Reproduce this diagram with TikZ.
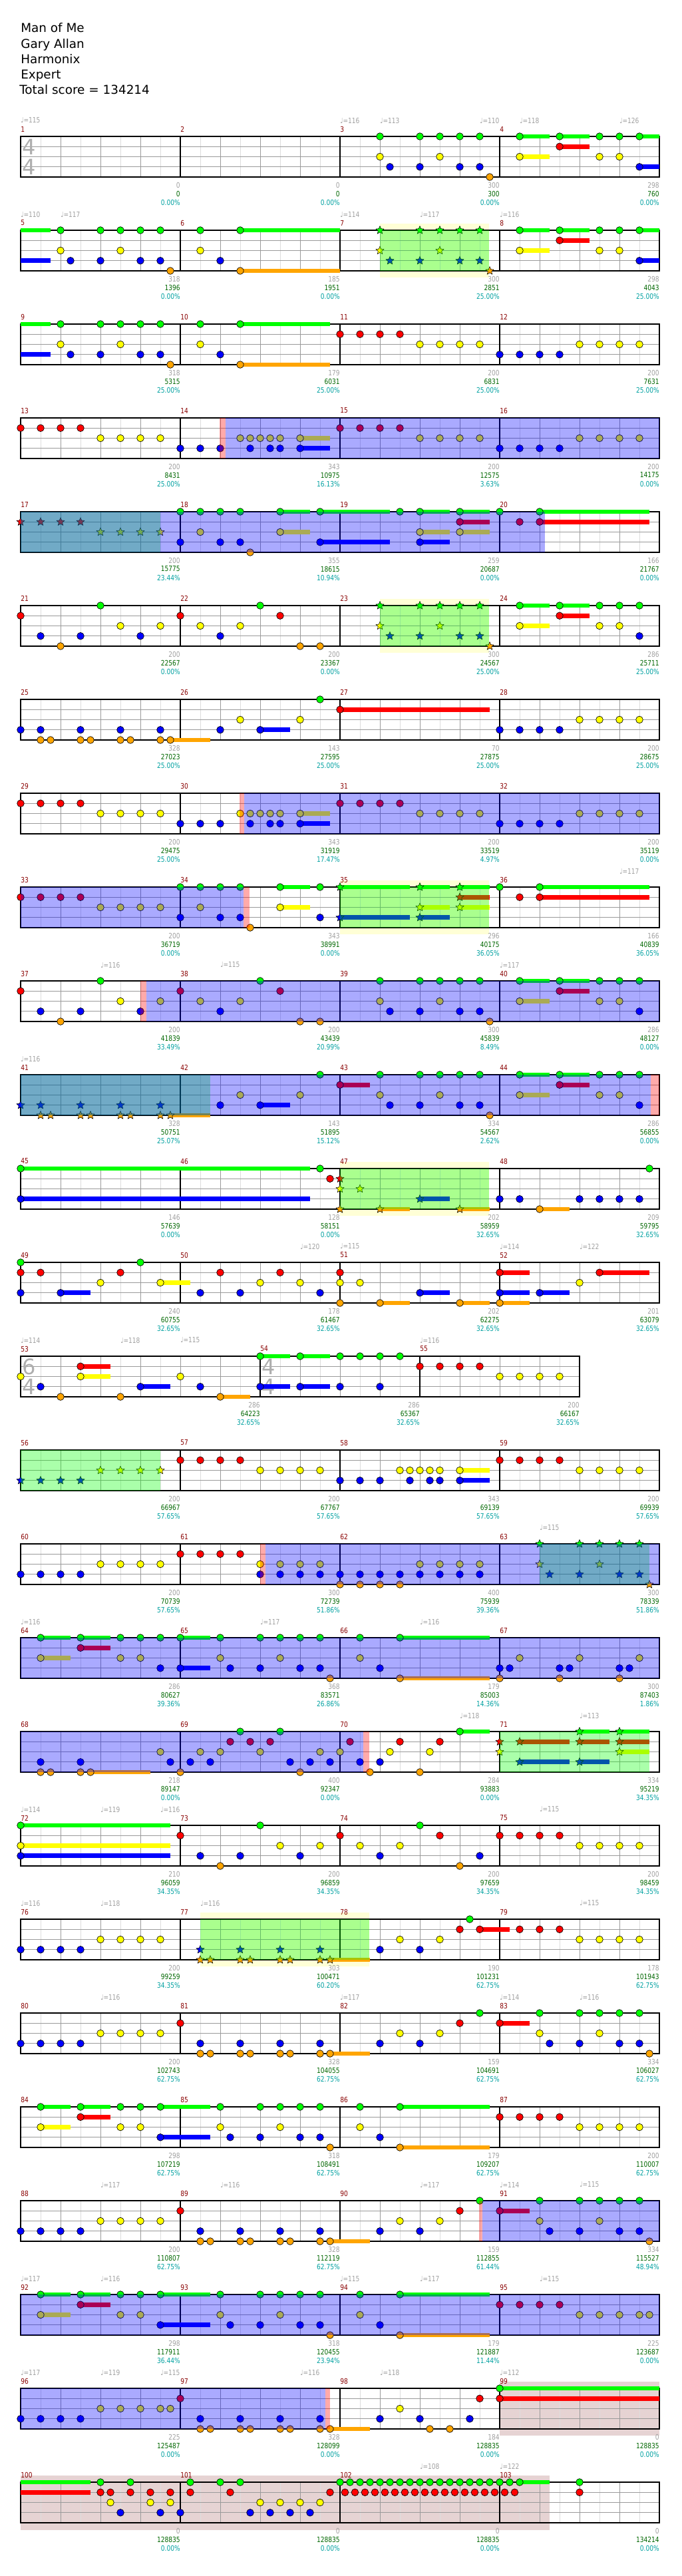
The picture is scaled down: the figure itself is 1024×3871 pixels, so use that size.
\documentclass[tikz,border=0pt]{standalone}
\usepackage{fontspec}
\setmainfont{DejaVu Sans}
\newfontfamily\lblfont[FakeStretch=0.82]{DejaVu Sans}
\usetikzlibrary{shapes.geometric}
\definecolor{gemGreen}{HTML}{00FF00}
\definecolor{gemRed}{HTML}{FF0000}
\definecolor{gemYellow}{HTML}{FFFF00}
\definecolor{gemBlue}{HTML}{0000FF}
\definecolor{gemOrange}{HTML}{FFA500}
\definecolor{gridlight}{HTML}{DDDDDD}
\definecolor{gridgrey}{HTML}{9A9A9A}
\definecolor{measred}{HTML}{880000}
\definecolor{ptsgrey}{HTML}{A0A0A0}
\definecolor{ptsgreen}{HTML}{006600}
\definecolor{ptsteal}{HTML}{00A0A0}
\definecolor{bandyel}{HTML}{FFFFD6}
\definecolor{codafill}{HTML}{E6D3D3}

\newcommand{\gm}[3]{\foreach \b in {#3}{\filldraw[gem, fill=#1] (60*\b,15.25*#2) circle[radius=4pt];}}
\newcommand{\nG}[1]{\gm{gemGreen}{0}{#1}}
\newcommand{\nR}[1]{\gm{gemRed}{1}{#1}}
\newcommand{\nY}[1]{\gm{gemYellow}{2}{#1}}
\newcommand{\nB}[1]{\gm{gemBlue}{3}{#1}}
\newcommand{\nO}[1]{\gm{gemOrange}{4}{#1}}
\newcommand{\stg}[3]{\foreach \b in {#3}{\node[stargem, fill=#1] at (60*\b,15.25*#2) {};}}
\newcommand{\sG}[1]{\stg{gemGreen}{0}{#1}}
\newcommand{\sR}[1]{\stg{gemRed}{1}{#1}}
\newcommand{\sY}[1]{\stg{gemYellow}{2}{#1}}
\newcommand{\sB}[1]{\stg{gemBlue}{3}{#1}}
\newcommand{\sO}[1]{\stg{gemOrange}{4}{#1}}
\newcommand{\hold}[4]{\draw[sustain, #1] (60*#3,15.25*#2) -- (60*#4,15.25*#2);}
\newcommand{\uG}[2]{\hold{gemGreen}{0}{#1}{#2}}
\newcommand{\uR}[2]{\hold{gemRed}{1}{#1}{#2}}
\newcommand{\uY}[2]{\hold{gemYellow}{2}{#1}{#2}}
\newcommand{\uB}[2]{\hold{gemBlue}{3}{#1}{#2}}
\newcommand{\uO}[2]{\hold{gemOrange}{4}{#1}{#2}}
\newcommand{\staff}[2]{%
  \foreach \i in {1,...,#1}{\draw[halfbeat] (60*\i-30,0) -- (60*\i-30,61);}
  \foreach \i in {1,...,#1}{\draw[beatline] (60*\i,0) -- (60*\i,61);}
  \foreach \j in {1,2,3}{\draw[beatline] (0,15.25*\j) -- (60*#1,15.25*\j);}
  \foreach \i in {#2}{\draw[barline] (60*\i,0) -- (60*\i,61);}
  \draw[barline] (0,0) rectangle (60*#1,61);}
\newcommand{\odrive}[2]{\fill[blue, fill opacity=0.333] (60*#1,0) rectangle (60*#2,61);}
\newcommand{\phrase}[2]{\fill[green, fill opacity=0.333] (60*#1,0) rectangle (60*#2,61);}
\newcommand{\pinkmark}[2]{\fill[red, fill opacity=0.333] (60*#1,0) rectangle (60*#2,61);}
\newcommand{\band}[2]{\fill[bandyel] (60*#1,-10) rectangle (60*#2,71);}
\newcommand{\codazone}[3]{\fill[codafill] (60*#1,-10) rectangle (60*#2,#3);}
\newcommand{\mnum}[2]{\node[measnum] at (60*#1,-11) {#2};}
\newcommand{\tempo}[2]{\node[tempomark] at (60*#1,-24) {♩=#2};}
\newcommand{\pts}[4]{\node[ptgrey] at (60*#1,73) {#2};
  \node[ptgreen] at (60*#1,86) {#3};
  \node[ptteal] at (60*#1,99) {#4\%};}
\newcommand{\tsig}[3]{\node[tsignum] at (60*#1+13,16) {#2};
  \node[tsignum] at (60*#1+13,45.75) {#3};}

\begin{document}
\begin{tikzpicture}[x=0.75pt, y=-0.75pt,
    gem/.style={draw=black, line width=0.5pt},
    stargem/.style={star, star points=5, star point ratio=2.2, minimum size=9.5pt,
                    inner sep=0pt, draw=black, line width=0.4pt},
    sustain/.style={line width=5pt},
    halfbeat/.style={draw=gridlight, line width=0.75pt},
    beatline/.style={draw=gridgrey, line width=0.75pt},
    barline/.style={draw=black, line width=1pt},
    small/.style={inner sep=0pt, font=\lblfont\fontsize{8.3}{9}\selectfont},
    measnum/.style={small, anchor=west, text=measred},
    tempomark/.style={small, anchor=west, text=ptsgrey},
    ptgrey/.style={small, anchor=east, text=ptsgrey},
    ptgreen/.style={small, anchor=east, text=ptsgreen},
    ptteal/.style={small, anchor=east, text=ptsteal},
    tsignum/.style={inner sep=0pt, text=ptsgrey!85, font=\fontsize{24}{24}\selectfont},
    title/.style={anchor=base west, inner sep=0pt, font=\fontsize{13.8}{16}\selectfont},
]
\useasboundingbox (0,0) rectangle (1024,3871);

\node[title] (song) at (31,49) {Man of Me};
\node[title] (artist) at (31,72.2) {Gary Allan};
\node[title] (charter) at (31,95.3) {Harmonix};
\node[title] (level) at (31,118.4) {Expert};
\node[title] (total) at (29,141.6) {Total score = 134214};

% 1-4
\begin{scope}[shift={(31,205)}]
\staff{16}{4,8,12}
\tsig{0}{4}{4}
\uG{12.5}{13.25} \uG{13.5}{14.25} \uG{15.5}{16} \uR{13.5}{14.25} \uY{12.5}{13.25} \uB{15.5}{16}
\nG{9,10,10.5,11,11.5,12.5,13.5,14.5,15,15.5}
\nR{13.5}
\nY{9,10.5,12.5,14.5,15}
\nB{9.25,10,11,11.5,15.5}
\nO{11.75}
\mnum{0}{1} \mnum{4}{2} \mnum{8}{3} \mnum{12}{4}
\tempo{0}{115} \tempo{8}{116} \tempo{9}{113} \tempo{11.5}{110} \tempo{12.5}{118} \tempo{15}{126}
\pts{4}{0}{0}{0.00} \pts{8}{0}{0}{0.00} \pts{12}{300}{300}{0.00} \pts{16}{298}{760}{0.00}
\end{scope}

% 5-8
\begin{scope}[shift={(31,346)}]
\band{9}{11.73}
\staff{16}{4,8,12}
\uG{0}{0.75} \uB{0}{0.75} \uG{5.5}{8} \uO{5.5}{8}
\uG{12.5}{13.25} \uG{13.5}{14.25} \uG{15.5}{16} \uR{13.5}{14.25} \uY{12.5}{13.25} \uB{15.5}{16}
\nG{1,2,2.5,3,3.5,4.5,5.5,12.5,13.5,14.5,15,15.5}
\nR{13.5}
\nY{1,2.5,4.5,12.5,14.5,15}
\nB{1.25,2,3,3.5,5,15.5}
\nO{3.75,5.5}
\sG{9,10,10.5,11,11.5} \sY{9,10.5} \sB{9.25,10,11,11.5} \sO{11.75}
\phrase{9}{11.73}
\mnum{0}{5} \mnum{4}{6} \mnum{8}{7} \mnum{12}{8}
\tempo{0}{110} \tempo{1}{117} \tempo{8}{114} \tempo{10}{117} \tempo{12}{116}
\pts{4}{318}{1396}{0.00} \pts{8}{185}{1951}{0.00} \pts{12}{300}{2851}{25.00} \pts{16}{298}{4043}{25.00}
\end{scope}

% 9-12
\begin{scope}[shift={(31,487)}]
\staff{16}{4,8,12}
\uG{0}{0.75} \uB{0}{0.75} \uG{5.5}{7.75} \uO{5.5}{7.75}
\nG{1,2,2.5,3,3.5,4.5,5.5}
\nR{8,8.5,9,9.5}
\nY{1,2.5,4.5,10,10.5,11,11.5,14,14.5,15,15.5}
\nB{1.25,2,3,3.5,5,12,12.5,13,13.5}
\nO{3.75,5.5}
\mnum{0}{9} \mnum{4}{10} \mnum{8}{11} \mnum{12}{12}
\pts{4}{318}{5315}{25.00} \pts{8}{179}{6031}{25.00} \pts{12}{200}{6831}{25.00} \pts{16}{200}{7631}{25.00}
\end{scope}

% 13-16
\begin{scope}[shift={(31,628)}]
\staff{16}{4,8,12}
\uY{7}{7.75} \uB{7}{7.75}
\nR{0,0.5,1,1.5,8,8.5,9,9.5}
\nY{2,2.5,3,3.5,5.5,5.75,6,6.25,6.5,7,10,10.5,11,11.5,14,14.5,15,15.5}
\nB{4,4.5,5,5.75,6.25,6.5,7,12,12.5,13,13.5}
\pinkmark{4.99}{5.14} \odrive{5.14}{16}
\mnum{0}{13} \mnum{4}{14} \mnum{8}{15} \mnum{12}{16}
\pts{4}{200}{8431}{25.00} \pts{8}{343}{10975}{16.13} \pts{12}{200}{12575}{3.63} \pts{16}{200}{14175}{0.00}
\end{scope}

% 17-20
\begin{scope}[shift={(31,769)}]
\staff{16}{4,8,12}
\uG{6.5}{7.25} \uG{7.5}{9.25} \uG{10}{10.75} \uG{11}{11.75} \uG{13}{15.75}
\uR{11}{11.75} \uR{13}{15.75} \uY{6.5}{7.25} \uY{10}{10.75} \uY{11}{11.75}
\uB{7.5}{9.25} \uB{10}{10.75}
\nG{4,4.5,5,5.5,6.5,7.5,9.5,10,11,12,13}
\nR{11,12.5,13}
\nY{4.5,6.5,10,11}
\nB{4,5,5.5,7.5,10}
\nO{5.75}
\sR{0,0.5,1,1.5} \sY{2,2.5,3,3.5}
\phrase{0}{3.5} \odrive{0}{13.14}
\mnum{0}{17} \mnum{4}{18} \mnum{8}{19} \mnum{12}{20}
\pts{4}{200}{15775}{23.44} \pts{8}{355}{18615}{10.94} \pts{12}{259}{20687}{0.00} \pts{16}{166}{21767}{0.00}
\end{scope}

% 21-24
\begin{scope}[shift={(31,910)}]
\band{9}{11.74}
\staff{16}{4,8,12}
\uG{12.5}{13.25} \uG{13.5}{14.25} \uR{13.5}{14.25} \uY{12.5}{13.25}
\nG{2,6,12.5,13.5,14.5,15,15.5}
\nR{0,4,6.5,13.5}
\nY{2.5,3.5,4.5,5.5,12.5,14.5,15}
\nB{0.5,1.5,3,5,15.5}
\nO{1,7,7.5}
\sG{9,10,10.5,11,11.5} \sY{9,10.5} \sB{9.25,10,11,11.5} \sO{11.75}
\phrase{9}{11.74}
\mnum{0}{21} \mnum{4}{22} \mnum{8}{23} \mnum{12}{24}
\pts{4}{200}{22567}{0.00} \pts{8}{200}{23367}{0.00} \pts{12}{300}{24567}{25.00} \pts{16}{286}{25711}{25.00}
\end{scope}

% 25-28
\begin{scope}[shift={(31,1051)}]
\staff{16}{4,8,12}
\uO{3.75}{4.75} \uB{6}{6.75} \uR{8}{11.75}
\nG{7.5}
\nR{8}
\nY{5.5,7,14,14.5,15,15.5}
\nB{0,0.5,1.5,2.5,3.5,5,6,12,12.5,13,13.5}
\nO{0.5,0.75,1.5,1.75,2.5,2.75,3.5,3.75}
\mnum{0}{25} \mnum{4}{26} \mnum{8}{27} \mnum{12}{28}
\pts{4}{328}{27023}{25.00} \pts{8}{143}{27595}{25.00} \pts{12}{70}{27875}{25.00} \pts{16}{200}{28675}{25.00}
\end{scope}

% 29-32
\begin{scope}[shift={(31,1192)}]
\staff{16}{4,8,12}
\uY{7}{7.75} \uB{7}{7.75}
\nR{0,0.5,1,1.5,8,8.5,9,9.5}
\nY{2,2.5,3,3.5,5.5,5.75,6,6.25,6.5,7,10,10.5,11,11.5,14,14.5,15,15.5}
\nB{4,4.5,5,5.75,6.25,6.5,7,12,12.5,13,13.5}
\pinkmark{5.49}{5.6} \odrive{5.6}{16}
\mnum{0}{29} \mnum{4}{30} \mnum{8}{31} \mnum{12}{32}
\pts{4}{200}{29475}{25.00} \pts{8}{343}{31919}{17.47} \pts{12}{200}{33519}{4.97} \pts{16}{200}{35119}{0.00}
\end{scope}

% 33-36
\begin{scope}[shift={(31,1333)}]
\band{8}{11.74}
\staff{16}{4,8,12}
\uG{6.5}{7.25} \uY{6.5}{7.25} \uG{8}{9.75} \uG{10}{10.75} \uG{11}{11.75}
\uR{11}{11.75} \uY{10}{10.75} \uY{11}{11.75} \uB{8}{9.75} \uB{10}{10.75}
\uG{13}{15.75} \uR{13}{15.75}
\nG{4,4.5,5,5.5,6.5,7.5,12,13}
\nR{0,0.5,1,1.5,12.5,13}
\nY{2,2.5,3,3.5,4.5,6.5}
\nB{4,5,5.5,7.5}
\nO{5.75}
\sG{8,10,11} \sR{11} \sY{10,11} \sB{8,10}
\odrive{0}{5.58} \pinkmark{5.58}{5.74} \phrase{8}{11.74}
\mnum{0}{33} \mnum{4}{34} \mnum{8}{35} \mnum{12}{36}
\tempo{15}{117}
\pts{4}{200}{36719}{0.00} \pts{8}{343}{38991}{0.00} \pts{12}{296}{40175}{36.05} \pts{16}{166}{40839}{36.05}
\end{scope}

% 37-40
\begin{scope}[shift={(31,1474)}]
\staff{16}{4,8,12}
\uG{12.5}{13.25} \uG{13.5}{14.25} \uR{13.5}{14.25} \uY{12.5}{13.25}
\nG{2,6,9,10,10.5,11,11.5,12.5,13.5,14.5,15,15.5}
\nR{0,4,6.5,13.5}
\nY{2.5,3.5,4.5,5.5,9,10.5,12.5,14.5,15}
\nB{0.5,1.5,3,5,9.25,10,11,11.5,15.5}
\nO{1,7,7.5,11.75}
\pinkmark{3}{3.15} \odrive{3.15}{16}
\mnum{0}{37} \mnum{4}{38} \mnum{8}{39} \mnum{12}{40}
\tempo{2}{116} \tempo{5}{115} \tempo{12}{117}
\pts{4}{200}{41839}{33.49} \pts{8}{200}{43439}{20.99} \pts{12}{300}{45839}{8.49} \pts{16}{286}{48127}{0.00}
\end{scope}

% 41-44
\begin{scope}[shift={(31,1615)}]
\staff{16}{4,8,12}
\uO{3.75}{4.75} \uB{6}{6.75} \uR{8}{8.75}
\uG{12.5}{13.25} \uG{13.5}{14.25} \uR{13.5}{14.25} \uY{12.5}{13.25}
\nG{7.5,9,10,10.5,11,11.5,12.5,13.5,14.5,15,15.5}
\nR{8,13.5}
\nY{5.5,7,9,10.5,12.5,14.5,15}
\nB{5,6,9.25,10,11,11.5,15.5}
\nO{11.75}
\sB{0,0.5,1.5,2.5,3.5} \sO{0.5,0.75,1.5,1.75,2.5,2.75,3.5,3.75}
\phrase{0}{4.75} \odrive{0}{15.79} \pinkmark{15.79}{16}
\mnum{0}{41} \mnum{4}{42} \mnum{8}{43} \mnum{12}{44}
\tempo{0}{116}
\pts{4}{328}{50751}{25.07} \pts{8}{143}{51895}{15.12} \pts{12}{334}{54567}{2.62} \pts{16}{286}{56855}{0.00}
\end{scope}

% 45-48
\begin{scope}[shift={(31,1756)}]
\band{8}{11.74}
\staff{16}{4,8,12}
\uG{0}{7.25} \uB{0}{7.25} \uO{9}{9.75} \uO{11}{11.75} \uB{10}{10.75} \uO{13}{13.75}
\nG{0,7.5,15.75}
\nR{7.75}
\nB{0,12,12.5,14,14.5,15,15.5}
\nO{13}
\sR{8} \sY{8,8.5} \sO{8,9,11} \sB{10}
\phrase{8}{11.74}
\mnum{0}{45} \mnum{4}{46} \mnum{8}{47} \mnum{12}{48}
\pts{4}{146}{57639}{0.00} \pts{8}{128}{58151}{0.00} \pts{12}{202}{58959}{32.65} \pts{16}{209}{59795}{32.65}
\end{scope}

% 49-52
\begin{scope}[shift={(31,1897)}]
\staff{16}{4,8,12}
\uY{3.5}{4.25} \uB{1}{1.75} \uO{9}{9.75} \uO{11}{11.75} \uB{10}{10.75}
\uR{12}{12.75} \uR{14.5}{15.75} \uB{12}{12.75} \uB{13}{13.75} \uO{12}{12.75}
\nG{0,3}
\nR{0,0.5,2.5,5,6.5,8,12,14.5}
\nY{2,3.5,6,7,8,8.5,14}
\nB{0,1,4.5,5.5,7.5,10,12,13}
\nO{8,9,11,12}
\mnum{0}{49} \mnum{4}{50} \mnum{8}{51} \mnum{12}{52}
\tempo{7}{120} \tempo{8}{115} \tempo{12}{114} \tempo{14}{122}
\pts{4}{240}{60755}{32.65} \pts{8}{178}{61467}{32.65} \pts{12}{202}{62275}{32.65} \pts{16}{201}{63079}{32.65}
\end{scope}

% 53-55
\begin{scope}[shift={(31,2038)}]
\staff{14}{6,10}
\tsig{0}{6}{4} \tsig{6}{4}{4}
\uR{1.5}{2.25} \uY{1.5}{2.25} \uB{3}{3.75} \uO{5}{5.75}
\uG{6}{6.75} \uG{7}{7.75} \uB{6}{6.75} \uB{7}{7.75}
\nG{6,7,8,8.5,9,9.5}
\nR{1.5,10,10.5,11,11.5}
\nY{0,1.5,4,12,12.5,13,13.5}
\nB{0.5,3,4.5,6,7,8,9}
\nO{1,2.5,5}
\mnum{0}{53} \mnum{6}{54} \mnum{10}{55}
\tempo{0}{114} \tempo{2.5}{118} \tempo{4}{115} \tempo{10}{116}
\pts{6}{286}{64223}{32.65} \pts{10}{286}{65367}{32.65} \pts{14}{200}{66167}{32.65}
\end{scope}

% 56-59
\begin{scope}[shift={(31,2179)}]
\staff{16}{4,8,12}
\uY{11}{11.75} \uB{11}{11.75}
\nR{4,4.5,5,5.5,12,12.5,13,13.5}
\nY{6,6.5,7,7.5,9.5,9.75,10,10.25,10.5,11,14,14.5,15,15.5}
\nB{8,8.5,9,9.75,10.25,10.5,11}
\sB{0,0.5,1,1.5} \sY{2,2.5,3,3.5}
\phrase{0}{3.5}
\mnum{0}{56} \mnum{4}{57} \mnum{8}{58} \mnum{12}{59}
\pts{4}{200}{66967}{57.65} \pts{8}{200}{67767}{57.65} \pts{12}{343}{69139}{57.65} \pts{16}{200}{69939}{57.65}
\end{scope}

% 60-63
\begin{scope}[shift={(31,2320)}]
\staff{16}{4,8,12}
\nR{4,4.5,5,5.5}
\nY{2,2.5,3,3.5,6,6.5,7,7.5,10,10.5,11,11.5}
\nB{0,0.5,1,1.5,6,6.5,7,7.5,8,8.5,9,9.5,10,10.5,11,11.5}
\nO{8,8.5,9,9.5}
\sG{13,14,14.5,15,15.5} \sY{13,14.5} \sB{13.25,14,15,15.5} \sO{15.75}
\phrase{13}{15.75} \pinkmark{6}{6.13} \odrive{6.13}{16}
\mnum{0}{60} \mnum{4}{61} \mnum{8}{62} \mnum{12}{63}
\tempo{13}{115}
\pts{4}{200}{70739}{57.65} \pts{8}{300}{72739}{51.86} \pts{12}{400}{75939}{39.36} \pts{16}{300}{78339}{51.86}
\end{scope}

% 64-67
\begin{scope}[shift={(31,2461)}]
\staff{16}{4,8,12}
\uG{0.5}{1.25} \uG{1.5}{2.25} \uG{4}{4.75} \uR{1.5}{2.25} \uY{0.5}{1.25} \uB{4}{4.75}
\uG{9.5}{11.75} \uO{9.5}{11.75}
\nG{0.5,1.5,2.5,3,3.5,4,5,6,6.5,7,7.5,8.5,9.5}
\nR{1.5}
\nY{0.5,2.5,3,5,6.5,8.5,12.5,14,15.5}
\nB{3.5,4,5.25,6,7,7.5,9,12,12.25,13.5,13.75,15,15.25}
\nO{7.75,9.5,12,13.5,15}
\odrive{0}{16}
\mnum{0}{64} \mnum{4}{65} \mnum{8}{66} \mnum{12}{67}
\tempo{0}{116} \tempo{6}{117} \tempo{10}{116}
\pts{4}{286}{80627}{39.36} \pts{8}{368}{83571}{26.86} \pts{12}{179}{85003}{14.36} \pts{16}{300}{87403}{1.86}
\end{scope}

% 68-71
\begin{scope}[shift={(31,2602)}]
\staff{16}{4,8,12}
\uO{1.75}{3.25} \uG{11}{11.75}
\uR{12.5}{13.75} \uR{14}{14.75} \uR{15}{15.75} \uY{15}{15.75}
\uB{12.5}{13.75} \uB{14}{14.75} \uG{14}{14.75} \uG{15}{15.75}
\nG{5.5,6.5,11}
\nR{5.25,5.75,6.25,8.25,9.5,10.5}
\nY{3.5,4.5,5,6,7.5,8,9.25,10.25}
\nB{0.5,1.5,3.75,4.25,4.75,6.75,7.25,7.75,8.5,9}
\nO{0.5,0.75,1.5,1.75,4,7,8.75,10}
\sR{12,12.5,14,15} \sY{12,15} \sB{12.5,14} \sG{14,15}
\odrive{0}{8.58} \pinkmark{8.58}{8.74} \phrase{12}{15.75}
\mnum{0}{68} \mnum{4}{69} \mnum{8}{70} \mnum{12}{71}
\tempo{11}{118} \tempo{14}{113}
\pts{4}{218}{89147}{0.00} \pts{8}{400}{92347}{0.00} \pts{12}{284}{93883}{0.00} \pts{16}{334}{95219}{34.35}
\end{scope}

% 72-75
\begin{scope}[shift={(31,2743)}]
\staff{16}{4,8,12}
\uG{0}{3.75} \uY{0}{3.75} \uB{0}{3.75}
\nG{0,6,10}
\nR{4,8,10.5,12,12.5,13,13.5}
\nY{0,6.5,7.5,8.5,9.5,14,14.5,15,15.5}
\nB{0,4.5,5.5,7,9,11.5}
\nO{5,11}
\mnum{0}{72} \mnum{4}{73} \mnum{8}{74} \mnum{12}{75}
\tempo{0}{114} \tempo{2}{119} \tempo{3.5}{116} \tempo{13}{115}
\pts{4}{210}{96059}{34.35} \pts{8}{200}{96859}{34.35} \pts{12}{200}{97659}{34.35} \pts{16}{200}{98459}{34.35}
\end{scope}

% 76-79
\begin{scope}[shift={(31,2884)}]
\band{4.5}{8.74}
\staff{16}{4,8,12}
\uO{7.75}{8.75} \uR{11.5}{12.25}
\nG{11.25}
\nR{11,11.5,12.5,13,13.5}
\nY{2,2.5,3,3.5,9.5,10.5,14,14.5,15,15.5}
\nB{0,0.5,1,1.5,9,10}
\sB{4.5,5.5,6.5,7.5} \sO{4.5,4.75,5.5,5.75,6.5,6.75,7.5,7.75}
\phrase{4.5}{8.74}
\mnum{0}{76} \mnum{4}{77} \mnum{8}{78} \mnum{12}{79}
\tempo{0}{116} \tempo{2}{118} \tempo{4.5}{116} \tempo{14}{115}
\pts{4}{200}{99259}{34.35} \pts{8}{303}{100471}{60.20} \pts{12}{190}{101231}{62.75} \pts{16}{178}{101943}{62.75}
\end{scope}

% 80-83
\begin{scope}[shift={(31,3025)}]
\staff{16}{4,8,12}
\uO{7.75}{8.75} \uR{12}{12.75}
\nG{11.5,13,14,14.5,15,15.5}
\nR{4,11,12}
\nY{2,2.5,3,3.5,9.5,10.5,13,14.5}
\nB{0,0.5,1,1.5,4.5,5.5,6.5,7.5,9,10,13.25,14,15,15.5}
\nO{4.5,4.75,5.5,5.75,6.5,6.75,7.5,7.75,15.75}
\mnum{0}{80} \mnum{4}{81} \mnum{8}{82} \mnum{12}{83}
\tempo{2}{116} \tempo{8}{117} \tempo{12}{114} \tempo{14}{116}
\pts{4}{200}{102743}{62.75} \pts{8}{328}{104055}{62.75} \pts{12}{159}{104691}{62.75} \pts{16}{334}{106027}{62.75}
\end{scope}

% 84-87
\begin{scope}[shift={(31,3166)}]
\staff{16}{4,8,12}
\uG{0.5}{1.25} \uG{1.5}{2.25} \uG{3.5}{4.75} \uR{1.5}{2.25} \uY{0.5}{1.25} \uB{3.5}{4.75}
\uG{9.5}{11.75} \uO{9.5}{11.75}
\nG{0.5,1.5,2.5,3,3.5,5,6,6.5,7,7.5,8.5,9.5}
\nR{1.5,12,12.5,13,13.5}
\nY{0.5,2.5,3,5,6.5,8.5,14,14.5,15,15.5}
\nB{3.5,5.25,6,7,7.5,9}
\nO{7.75,9.5}
\mnum{0}{84} \mnum{4}{85} \mnum{8}{86} \mnum{12}{87}
\pts{4}{298}{107219}{62.75} \pts{8}{318}{108491}{62.75} \pts{12}{179}{109207}{62.75} \pts{16}{200}{110007}{62.75}
\end{scope}

% 88-91
\begin{scope}[shift={(31,3307)}]
\staff{16}{4,8,12}
\uO{7.75}{8.75} \uR{12}{12.75}
\nG{11.5,13,14,14.5,15,15.5}
\nR{4,11,12}
\nY{2,2.5,3,3.5,9.5,10.5,13,14.5}
\nB{0,0.5,1,1.5,4.5,5.5,6.5,7.5,9,10,13.25,14,15,15.5}
\nO{4.5,4.75,5.5,5.75,6.5,6.75,7.5,7.75,15.75}
\pinkmark{11.48}{11.57} \odrive{11.57}{16}
\mnum{0}{88} \mnum{4}{89} \mnum{8}{90} \mnum{12}{91}
\tempo{2}{117} \tempo{5}{116} \tempo{10}{117} \tempo{12}{114} \tempo{14}{115}
\pts{4}{200}{110807}{62.75} \pts{8}{328}{112119}{62.75} \pts{12}{159}{112855}{61.44} \pts{16}{334}{115527}{48.94}
\end{scope}

% 92-95
\begin{scope}[shift={(31,3448)}]
\staff{16}{4,8,12}
\uG{0.5}{1.25} \uG{1.5}{2.25} \uG{3.5}{4.75} \uR{1.5}{2.25} \uY{0.5}{1.25} \uB{3.5}{4.75}
\uG{9.5}{11.75} \uO{9.5}{11.75}
\nG{0.5,1.5,2.5,3,3.5,5,6,6.5,7,7.5,8.5,9.5}
\nR{1.5,12,12.5,13,13.5}
\nY{0.5,2.5,3,5,6.5,8.5,14,14.5,15,15.5,15.75}
\nB{3.5,5.25,6,7,7.5,9}
\nO{7.75,9.5}
\odrive{0}{16}
\mnum{0}{92} \mnum{4}{93} \mnum{8}{94} \mnum{12}{95}
\tempo{0}{117} \tempo{2}{116} \tempo{8}{115} \tempo{10}{117} \tempo{13}{115}
\pts{4}{298}{117911}{36.44} \pts{8}{318}{120455}{23.94} \pts{12}{179}{121887}{11.44} \pts{16}{225}{123687}{0.00}
\end{scope}

% 96-99
\begin{scope}[shift={(31,3589)}]
\codazone{12}{16}{71}
\staff{16}{4,8,12}
\uO{7.75}{8.75} \uG{12}{16} \uR{12}{16}
\nG{12}
\nR{4,11.5,12}
\nY{2,2.5,3,3.5,3.75,9.5}
\nB{0,0.5,1,1.5,4.5,5.5,6.5,7.5,9,10,11.25}
\nO{4.5,4.75,5.5,5.75,6.5,6.75,7.5,7.75,10.25,10.75}
\odrive{0}{7.64} \pinkmark{7.64}{7.75}
\mnum{0}{96} \mnum{4}{97} \mnum{8}{98} \mnum{12}{99}
\tempo{0}{117} \tempo{2}{119} \tempo{3.5}{115} \tempo{7}{116} \tempo{9}{118} \tempo{12}{112}
\pts{4}{225}{125487}{0.00} \pts{8}{328}{128099}{0.00} \pts{12}{184}{128835}{0.00} \pts{16}{0}{128835}{0.00}
\end{scope}

% 100-103
\begin{scope}[shift={(31,3730)}]
\codazone{0}{13.25}{72}
\staff{16}{4,8,12}
\uG{0}{1.75} \uR{0}{1.75} \uG{12.5}{13.25}
\nG{2,2.75,4.25,5,5.5,14}
\nG{8,8.25,...,12.5}
\nR{2,2.25,2.75,3.25,3.75,4.25,5.25,7.75,14}
\nR{8.125,8.375,...,12.375}
\nY{2.25,3.25,3.75,6,6.5,7,7.5}
\nB{2.5,3.5,4,5.75,6.25,6.75,7.25}
\mnum{0}{100} \mnum{4}{101} \mnum{8}{102} \mnum{12}{103}
\tempo{10}{108} \tempo{12}{122}
\pts{4}{0}{128835}{0.00} \pts{8}{0}{128835}{0.00} \pts{12}{0}{128835}{0.00} \pts{16}{0}{134214}{0.00}
\end{scope}
\end{tikzpicture}
\end{document}
